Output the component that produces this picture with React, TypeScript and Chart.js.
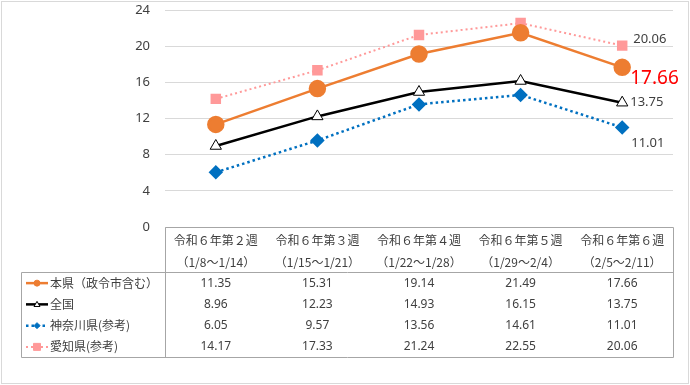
import React, { useEffect, useRef } from "react";
import { Chart, registerables } from "chart.js";
Chart.register(...registerables);

const categories = ["令和６年第２週", "令和６年第３週", "令和６年第４週", "令和６年第５週", "令和６年第６週"];
const periods = ["（1/8〜1/14）", "（1/15〜1/21）", "（1/22〜1/28）", "（1/29〜2/4）", "（2/5〜2/11）"];
const seriesNames = ["本県（政令市含む）", "全国", "神奈川県(参考)", "愛知県(参考)"];
const honken = [11.35, 15.31, 19.14, 21.49, 17.66];
const zenkoku = [8.96, 12.23, 14.93, 16.15, 13.75];
const kanagawa = [6.05, 9.57, 13.56, 14.61, 11.01];
const aichi = [14.17, 17.33, 21.24, 22.55, 20.06];
const yMin = 0;
const yMax = 24;
const yLabelStep = 4;
const yGridStep = 2;

const CJK = '"Noto Sans CJK JP", "Noto Sans", sans-serif';
const NUM = '"Noto Sans", "Open Sans", sans-serif';

// label styles for last-point annotations: [dx, dy, color, size]
const endLabelStyle: Array<[number, number, string, number]> = [
  [8, 11, "#ff0000", 19],
  [8, 0, "#404040", 13],
  [9, 16, "#404040", 13],
  [11, -6, "#404040", 13],
];

const endLabelPlugin = {
  id: "endLabels",
  afterDatasetsDraw(chart: any) {
    const ctx = chart.ctx;
    ctx.save();
    chart.data.datasets.forEach((ds: any, i: number) => {
      const meta = chart.getDatasetMeta(i);
      const last = meta.data[meta.data.length - 1];
      const v = ds.data[ds.data.length - 1];
      const [dx, dy, color, size] = endLabelStyle[i];
      ctx.font = `${size}px ${NUM}`;
      ctx.fillStyle = color;
      ctx.textAlign = "left";
      ctx.textBaseline = "middle";
      ctx.fillText(v.toFixed(2), last.x + dx, last.y + dy);
    });
    ctx.restore();
  },
};

function drawMarker(ctx: CanvasRenderingContext2D, ds: any, x: number, y: number, r: number) {
  ctx.save();
  ctx.fillStyle = ds.pointBackgroundColor;
  ctx.strokeStyle = ds.pointBorderColor;
  ctx.lineWidth = 1;
  ctx.beginPath();
  if (ds.pointStyle === "circle") {
    ctx.arc(x, y, r, 0, Math.PI * 2);
  } else if (ds.pointStyle === "triangle") {
    ctx.moveTo(x, y - r);
    ctx.lineTo(x + r, y + r * 0.7);
    ctx.lineTo(x - r, y + r * 0.7);
    ctx.closePath();
  } else if (ds.pointStyle === "rectRot") {
    ctx.moveTo(x, y - r);
    ctx.lineTo(x + r, y);
    ctx.lineTo(x, y + r);
    ctx.lineTo(x - r, y);
    ctx.closePath();
  } else {
    ctx.rect(x - r, y - r, r * 2, r * 2);
  }
  ctx.fill();
  ctx.stroke();
  ctx.restore();
}

const tablePlugin = {
  id: "dataTable",
  afterDraw(chart: any) {
    const ctx: CanvasRenderingContext2D = chart.ctx;
    const xs = chart.scales.x;
    const area = chart.chartArea;
    const tLeft = 21;
    const tTop = area.bottom;
    const hBottom = tTop + 45;
    const rowH = 21.25;
    const tBottom = hBottom + rowH * 4;
    const colLeft = area.left;
    const right = area.right;
    ctx.save();
    ctx.strokeStyle = "#a6a6a6";
    ctx.lineWidth = 1;
    ctx.beginPath();
    ctx.moveTo(colLeft + 0.5, tTop + 0.5);
    ctx.lineTo(right + 0.5, tTop + 0.5);
    ctx.lineTo(right + 0.5, tBottom + 0.5);
    ctx.lineTo(tLeft + 0.5, tBottom + 0.5);
    ctx.lineTo(tLeft + 0.5, hBottom + 0.5);
    ctx.lineTo(right + 0.5, hBottom + 0.5);
    ctx.moveTo(colLeft + 0.5, tTop + 0.5);
    ctx.lineTo(colLeft + 0.5, tBottom + 0.5);
    ctx.stroke();

    ctx.fillStyle = "#404040";
    ctx.textAlign = "center";
    ctx.textBaseline = "middle";
    ctx.font = `12px ${CJK}`;
    categories.forEach((c, i) => {
      const cx = xs.getPixelForValue(i);
      ctx.fillText(c, cx, tTop + 13.5);
      ctx.fillText(periods[i], cx, tTop + 35);
    });

    chart.data.datasets.forEach((ds: any, r: number) => {
      const cy = hBottom + rowH * r + rowH / 2 + 0.5;
      ctx.save();
      ctx.strokeStyle = ds.borderColor;
      ctx.lineWidth = ds.borderWidth;
      ctx.setLineDash(ds.borderDash || []);
      ctx.beginPath();
      ctx.moveTo(tLeft + 5, cy);
      ctx.lineTo(tLeft + 27, cy);
      ctx.stroke();
      ctx.restore();
      drawMarker(ctx, ds, tLeft + 16, cy, r === 3 ? 3.5 : 3);
      ctx.fillStyle = "#404040";
      ctx.textAlign = "left";
      ctx.font = `12px ${CJK}`;
      ctx.fillText(seriesNames[r], tLeft + 29, cy);
      ctx.textAlign = "center";
      ctx.font = `12px ${NUM}`;
      ds.data.forEach((v: number, i: number) => {
        ctx.fillText(v.toFixed(2), xs.getPixelForValue(i), cy);
      });
    });

    ctx.strokeStyle = "#d9d9d9";
    ctx.strokeRect(1.5, 1.5, chart.width - 3, chart.height - 3);
    ctx.restore();
  },
};

export default function App() {
  const ref = useRef<HTMLCanvasElement>(null);
  useEffect(() => {
    document.body.style.margin = "0";
    const chart = new Chart(ref.current!, {
      type: "line",
      data: {
        labels: categories,
        datasets: [
          {
            label: seriesNames[0],
            data: honken,
            borderColor: "#ED7D31",
            backgroundColor: "#ED7D31",
            borderWidth: 2.5,
            pointStyle: "circle",
            pointRadius: 7.5,
            pointBackgroundColor: "#ED7D31",
            pointBorderColor: "#ED7D31",
          },
          {
            label: seriesNames[1],
            data: zenkoku,
            borderColor: "#000000",
            backgroundColor: "#ffffff",
            borderWidth: 2.5,
            pointStyle: "triangle",
            pointRadius: 6.5,
            pointBackgroundColor: "#ffffff",
            pointBorderColor: "#000000",
            pointBorderWidth: 1,
          },
          {
            label: seriesNames[2],
            data: kanagawa,
            borderColor: "#0070C0",
            backgroundColor: "#0070C0",
            borderWidth: 2.5,
            borderDash: [2.5, 3],
            pointStyle: "rectRot",
            pointRadius: 5.5,
            pointBackgroundColor: "#0070C0",
            pointBorderColor: "#0070C0",
          },
          {
            label: seriesNames[3],
            data: aichi,
            borderColor: "#FF9999",
            backgroundColor: "#FF9999",
            borderWidth: 2,
            borderDash: [2, 3],
            pointStyle: "rect",
            pointRadius: 6,
            pointBackgroundColor: "#FF9999",
            pointBorderColor: "#FF9999",
          },
        ],
      },
      options: {
        animation: false,
        responsive: false,
        layout: { autoPadding: false, padding: { top: 10, bottom: 158, right: 17, left: 0 } },
        plugins: { legend: { display: false }, tooltip: { enabled: false } },
        scales: {
          x: { display: false, offset: true },
          y: {
            min: yMin,
            max: yMax,
            afterFit: (s: any) => {
              s.width = 165;
              s.paddingTop = 0;
              s.paddingBottom = 0;
            },
            border: { display: false },
            grid: { color: "#d9d9d9", drawTicks: false, lineWidth: 1 },
            ticks: {
              stepSize: yGridStep,
              padding: 15,
              color: "#404040",
              font: { family: NUM, size: 13 },
              callback: (v: any) => (Number(v) % yLabelStep === 0 ? String(v) : ""),
            },
          },
        },
      },
      plugins: [endLabelPlugin, tablePlugin],
    });
    return () => chart.destroy();
  }, []);
  return (
    <div style={{ position: "absolute", left: 0, top: 0, width: 690, height: 385, background: "#fff" }}>
      <canvas ref={ref} width={690} height={385} style={{ width: 690, height: 385 }} />
    </div>
  );
}
